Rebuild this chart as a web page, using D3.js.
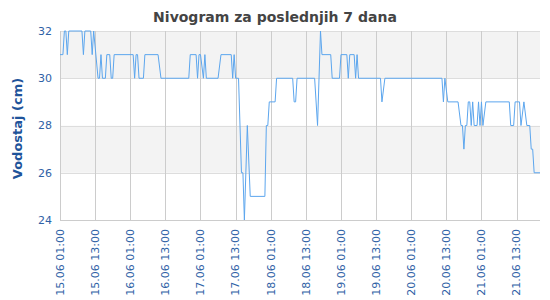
<!DOCTYPE html>
<html>
<head>
<meta charset="utf-8">
<script src="https://cdn.jsdelivr.net/npm/d3@7"></script>
<style>
  body { margin: 0; background: #fff; }
  text { font-family: "DejaVu Sans", Verdana, sans-serif; }
</style>
</head>
<body>
<div id="chart"></div>
<script>
const chartTitle = 'Nivogram za poslednjih 7 dana';
const yTitle = 'Vodostaj (cm)';
const startLabel = '15.06 01:00';
const endLabel = '21.06 21:00';
const xTickLabels = [
    '15.06 01:00', '15.06 13:00', '16.06 01:00', '16.06 13:00',
    '17.06 01:00', '17.06 13:00', '18.06 01:00', '18.06 13:00',
    '19.06 01:00', '19.06 13:00', '20.06 01:00', '20.06 13:00',
    '21.06 01:00', '21.06 13:00'
];
const yTicks = [24, 26, 28, 30, 32];

// hours after 15.06 01:00, and the level read at that time
const hours = [
    0, 1, 1.5, 2, 2.5, 3, 7.5, 8, 8.5, 10.5, 11, 11.5, 13, 13.5, 14, 14.5,
    15.5, 16, 17, 17.5, 18, 18.5, 25, 25.5, 26, 26.5, 27, 28.5, 29, 33.5, 34.5,
    44, 44.5, 46.5, 47, 47.5, 48, 49, 49.5, 50, 54, 55, 58.5, 59, 59.5, 60,
    61, 62, 62.5, 63, 64, 65, 70, 70.5, 71, 71.5, 73.5, 74, 79.5, 80, 80.5, 81,
    87, 88, 89, 89.5, 92.5, 93, 95.5, 96, 98, 98.5, 99, 100.5, 101, 101.5, 102,
    109.5, 110, 111, 130.5, 131, 131.5, 132.5, 136, 137, 137.5, 138, 138.5, 139,
    139.5, 140, 140.5, 141, 141.5, 142.5, 143, 143.5, 144, 144.5, 145.5, 153.5,
    154, 155, 155.5, 157, 157.5, 158.5, 159.5, 160.5, 161, 161.5, 162, 164
];
const levels = [
    31, 31, 32, 32, 31, 32, 32, 31, 32, 32, 31, 32, 30, 30, 31, 30,
    30, 31, 31, 30, 30, 31, 31, 30, 31, 31, 30, 30, 31, 31, 30,
    30, 31, 31, 30, 31, 31, 30, 31, 30, 30, 31, 31, 30, 31, 30,
    30, 26, 26, 24, 28, 25, 25, 28, 28, 29, 29, 30, 30, 29, 29, 30,
    30, 28, 32, 31, 31, 30, 30, 31, 31, 30, 31, 31, 30, 31, 30,
    30, 29, 30, 30, 29, 30, 29, 29, 28, 28, 27, 28, 28,
    29, 29, 28, 29, 28, 28, 29, 28, 29, 28, 29, 29,
    28, 28, 29, 29, 28, 29, 28, 28, 27, 27, 26, 26
];

const width = 550;
const height = 300;
const margin = { top: 31, right: 10, bottom: 80, left: 60 };

const parseTime = d3.utcParse('%d.%m %H:%M');
const start = parseTime(startLabel);
const end = parseTime(endLabel);
const points = hours.map((h, i) => ({
    time: new Date(start.getTime() + h * 3600000),
    value: levels[i]
}));

const svg = d3.select('#chart')
    .append('svg')
    .attr('width', width)
    .attr('height', height);

const x = d3.scaleUtc()
    .domain([start, end])
    .range([margin.left, width - margin.right]);

const y = d3.scaleLinear()
    .domain([d3.min(yTicks), d3.max(yTicks)])
    .range([height - margin.bottom, margin.top]);

// alternating bands
const bands = d3.pairs(yTicks).map((p, i) => ({ lo: p[0], hi: p[1], fill: i % 2 ? '#f3f3f3' : '#ffffff' }));
svg.append('g')
    .selectAll('rect')
    .data(bands)
    .join('rect')
    .attr('x', margin.left)
    .attr('width', width - margin.right - margin.left)
    .attr('y', d => y(d.hi))
    .attr('height', d => y(d.lo) - y(d.hi))
    .attr('fill', d => d.fill);

// horizontal grid
svg.append('g')
    .selectAll('line')
    .data(yTicks)
    .join('line')
    .attr('x1', margin.left)
    .attr('x2', width - margin.right)
    .attr('y1', d => Math.round(y(d)) + 0.5)
    .attr('y2', d => Math.round(y(d)) + 0.5)
    .attr('stroke', '#dddddd');

// vertical grid
const xTicks = xTickLabels.map(parseTime);
svg.append('g')
    .selectAll('line')
    .data(xTicks)
    .join('line')
    .attr('x1', d => Math.round(x(d)) + 0.5)
    .attr('x2', d => Math.round(x(d)) + 0.5)
    .attr('y1', margin.top)
    .attr('y2', height - margin.bottom)
    .attr('stroke', '#cccccc');

// bottom axis line
svg.append('line')
    .attr('x1', margin.left)
    .attr('x2', width - margin.right)
    .attr('y1', Math.round(y(yTicks[0])) + 0.5)
    .attr('y2', Math.round(y(yTicks[0])) + 0.5)
    .attr('stroke', '#cccccc');

// water level line
const line = d3.line()
    .x(d => x(d.time))
    .y(d => y(d.value));

svg.append('path')
    .datum(points)
    .attr('d', line)
    .attr('fill', 'none')
    .attr('stroke', '#5ca6ee')
    .attr('stroke-width', 1)
    .attr('stroke-linejoin', 'round');

// y tick labels
svg.append('g')
    .selectAll('text')
    .data(yTicks)
    .join('text')
    .attr('x', margin.left - 8)
    .attr('y', d => y(d))
    .attr('dy', '0.35em')
    .attr('text-anchor', 'end')
    .attr('font-size', '11px')
    .attr('fill', '#2f62a6')
    .text(d => d);

// x tick labels
svg.append('g')
    .selectAll('text')
    .data(xTicks)
    .join('text')
    .attr('transform', d => `translate(${x(d)},${height - margin.bottom + 9}) rotate(-90)`)
    .attr('dy', '0.35em')
    .attr('text-anchor', 'end')
    .attr('font-size', '11px')
    .attr('fill', '#2f62a6')
    .text((d, i) => xTickLabels[i]);

// titles
svg.append('text')
    .attr('x', width / 2)
    .attr('y', 22)
    .attr('text-anchor', 'middle')
    .attr('font-size', '14px')
    .attr('font-weight', 'bold')
    .attr('fill', '#444444')
    .text(chartTitle);

svg.append('text')
    .attr('transform', `translate(22,${(margin.top + height - margin.bottom) / 2 + 3}) rotate(-90)`)
    .attr('text-anchor', 'middle')
    .attr('font-size', '13px')
    .attr('font-weight', 'bold')
    .attr('fill', '#1f549a')
    .text(yTitle);
</script>
</body>
</html>
